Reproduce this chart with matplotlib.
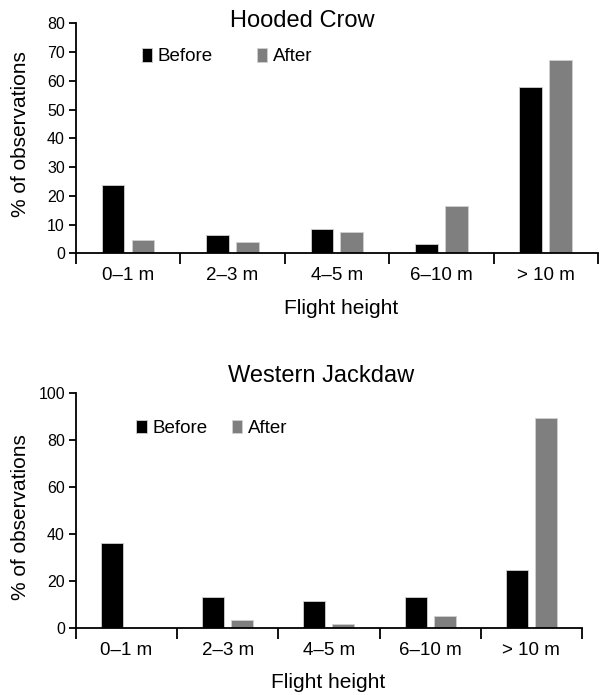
import numpy as np
import matplotlib
matplotlib.use("Agg")
import matplotlib.pyplot as plt
from matplotlib.patches import Patch

plt.rcParams['font.family'] = ['Liberation Sans', 'DejaVu Sans']

heights = ['0\u20131 m', '2\u20133 m', '4\u20135 m', '6\u201310 m', '> 10 m']

crow_before = [23.8, 6.4, 8.5, 3.1, 57.7]
crow_after = [4.6, 4.0, 7.4, 16.5, 67.2]

jackdaw_before = [36.1, 13.4, 11.3, 13.4, 24.8]
jackdaw_after = [0.0, 3.5, 1.7, 5.0, 89.6]

W, H = 601, 695
fig = plt.figure(figsize=(W / 100, H / 100), dpi=100)


def px_axes(x0, y0, x1, y1):
    # pixel box (left, top, right, bottom) -> figure fraction
    return fig.add_axes([x0 / W, 1 - y1 / H, (x1 - x0) / W, (y1 - y0) / H])


def draw(ax, before, after, ymax, ystep, leg_xy, colsp):
    x = np.arange(len(heights))
    ax.bar(x - 0.145, before, width=0.217, color='black', edgecolor='#d0d0d0', linewidth=0.6)
    ax.bar(x + 0.142, after, width=0.217, color='#7f7f7f', edgecolor='#d0d0d0', linewidth=0.6)
    ax.set_xlim(-0.5, len(heights) - 0.5)
    ax.set_ylim(0, ymax)
    ax.set_yticks(np.arange(0, ymax + 1, ystep))
    ax.set_xticks(np.arange(-0.5, len(heights)))
    ax.set_xticklabels([])
    ax.set_xticks(x, minor=True)
    ax.set_xticklabels(heights, minor=True, fontsize=13.5)
    ax.tick_params(axis='x', which='major', length=8, width=1.3, direction='out')
    ax.tick_params(axis='x', which='minor', length=0, pad=10)
    ax.tick_params(axis='y', length=5, width=1.3, labelsize=11.5, pad=3)
    for s in ['top', 'right']:
        ax.spines[s].set_visible(False)
    for s in ['left', 'bottom']:
        ax.spines[s].set_linewidth(1.3)
    handles = [Patch(facecolor='black', edgecolor='#d0d0d0', linewidth=0.6),
               Patch(facecolor='#7f7f7f', edgecolor='#d0d0d0', linewidth=0.6)]
    ax.legend(handles, ['Before', 'After'], ncol=2, frameon=False, fontsize=13.5,
              loc='center left', bbox_to_anchor=leg_xy, handlelength=0.55,
              handleheight=0.75, handletextpad=0.3, columnspacing=colsp,
              borderpad=0, borderaxespad=0)


ax1 = px_axes(76, 23.3, 598, 253.3)
draw(ax1, crow_before, crow_after, 80, 10, (0.126, 0.855), 2.35)
ax2 = px_axes(76, 393.3, 582, 628)
draw(ax2, jackdaw_before, jackdaw_after, 100, 20, (0.119, 0.851), 1.3)

fig.text(302 / W, 1 - 21 / H, 'Hooded Crow', ha='center', va='center', fontsize=17)
fig.text(321 / W, 1 - 376 / H, 'Western Jackdaw', ha='center', va='center', fontsize=17)
fig.text(21 / W, 1 - 134 / H, '% of observations', rotation=90, ha='center', va='center', fontsize=15)
fig.text(21 / W, 1 - 517 / H, '% of observations', rotation=90, ha='center', va='center', fontsize=15)
fig.text(341 / W, 1 - 309 / H, 'Flight height', ha='center', va='center', fontsize=15)
fig.text(328 / W, 1 - 683 / H, 'Flight height', ha='center', va='center', fontsize=15)

fig.savefig('out.png', dpi=100)
